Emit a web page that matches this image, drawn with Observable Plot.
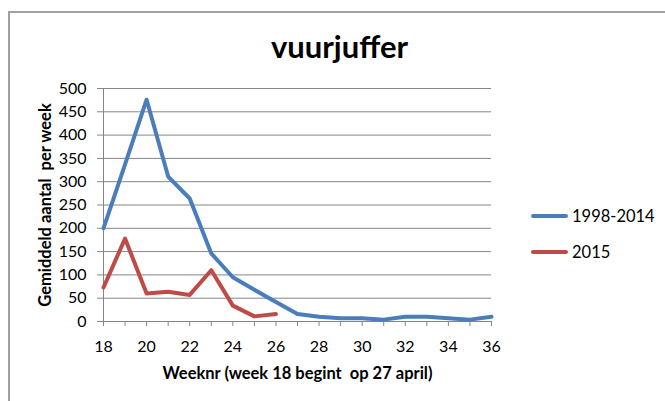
<!DOCTYPE html>
<html><head><meta charset="utf-8">
<script src="https://cdn.jsdelivr.net/npm/d3@7"></script>
<script src="https://cdn.jsdelivr.net/npm/@observablehq/plot@0.6"></script>
<style>
body{margin:0;background:#fff;font-family:Lato,"Open Sans",sans-serif;}
#wrap{position:relative;width:665px;height:401px;overflow:hidden;}
#frame{position:absolute;left:8px;top:11px;width:700px;height:400px;border-top:2px solid #a0a0a0;border-left:2px solid #a0a0a0;}
#title{position:absolute;left:0;width:665px;padding-left:14px;box-sizing:border-box;top:27px;text-align:center;font-size:31px;font-weight:bold;color:#000;}
.leg{position:absolute;left:531px;font-size:16.5px;color:#000;display:flex;align-items:center}
.leg span.sw{display:inline-block;width:37px;height:4px;margin-right:4px;border-radius:2px}
#chart{position:absolute;left:0;top:0}
</style></head><body>
<div id="wrap">
<div id="frame"></div>
<div id="chart"></div>
<div id="title">vuurjuffer</div>
<div class="leg" style="top:206px"><span class="sw" style="background:#4a7ebb"></span>1998-2014</div>
<div class="leg" style="top:242px"><span class="sw" style="background:#be4b48"></span>2015</div>
</div>
<script>
const weeks = [18,19,20,21,22,23,24,25,26,27,28,29,30,31,32,33,34,35,36];
const avg1998_2014 = [200,337,476,311,264,146,95,68,42,16,10,7,7,4,10,10,7,4,10];
const weeks2015 = [18,19,20,21,22,23,24,25,26];
const y2015 = [73,178,60,64,57,110,34,11,16];
const xTicks = [18,20,22,24,26,28,30,32,34,36];
const yTicks = [0,50,100,150,200,250,300,350,400,450,500];
const seriesNames = ["1998-2014","2015"];
const colors = ["#4a7ebb","#be4b48"];

const data = [
  ...weeks.map((w,i)=>({week:w, value:avg1998_2014[i], series:seriesNames[0]})),
  ...weeks2015.map((w,i)=>({week:w, value:y2015[i], series:seriesNames[1]}))
];

const plot = Plot.plot({
  width:665, height:401,
  marginLeft:103, marginRight:174, marginTop:88, marginBottom:80,
  style:{fontFamily:"Lato, 'Open Sans', sans-serif", fontSize:"16px", color:"#000", background:"transparent"},
  x:{domain:[18,36], label:null},
  y:{domain:[0,500], label:null},
  color:{domain:seriesNames, range:colors},
  marks:[
    Plot.gridY(yTicks,{stroke:"#868686", strokeOpacity:1, strokeWidth:1}),
    Plot.ruleX([18],{stroke:"#868686"}),
    Plot.ruleY([0],{stroke:"#868686"}),
    Plot.axisX(weeks,{tickSize:5, stroke:"#868686", tickFormat:()=>"", label:null}),
    Plot.axisX(xTicks,{tickSize:0, tickPadding:19, fontSize:16, fill:"#000", label:null}),
    Plot.axisY(yTicks,{tickSize:6, tickPadding:11, stroke:"#868686", fontSize:16, fill:"#000", label:null}),
    Plot.line(data,{x:"week", y:"value", stroke:"series", z:"series", strokeWidth:4, strokeLinejoin:"round"}),
    Plot.text(["Weeknr (week 18 begint  op 27 april)"],{frameAnchor:"bottom", dy:57, fontWeight:"bold", fontSize:16.5, fill:"#000", text:d=>d}),
    Plot.text(["Gemiddeld aantal  per week"],{frameAnchor:"left", dx:-58, rotate:-90, textAnchor:"middle", fontWeight:"bold", fontSize:16.5, fill:"#000", text:d=>d})
  ]
});
document.getElementById("chart").appendChild(plot);
</script>
</body></html>
